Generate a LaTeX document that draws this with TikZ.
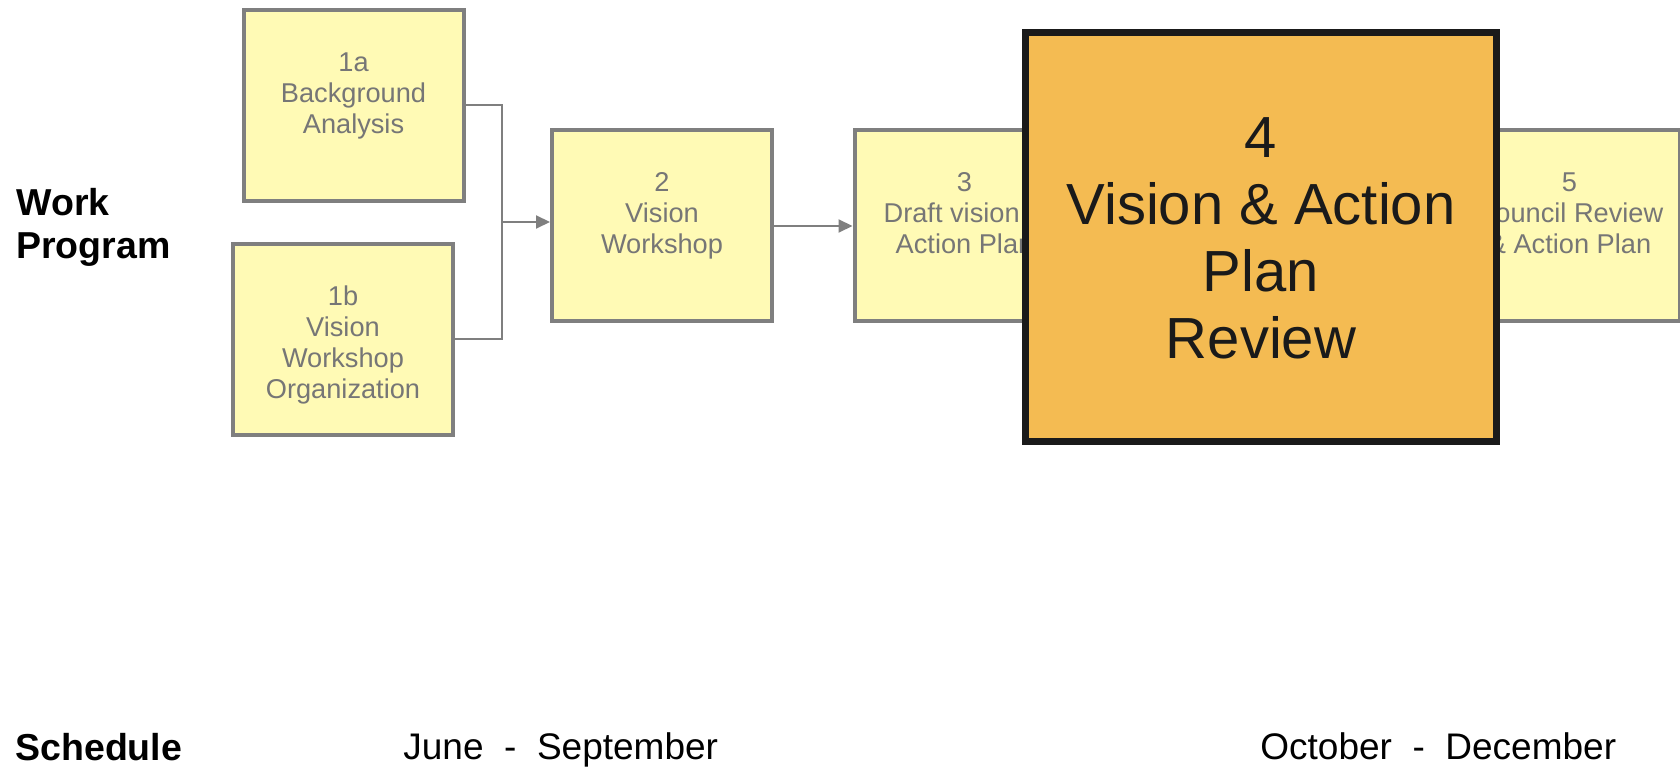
\documentclass[tikz,border=0pt]{standalone}
\usepackage{fontspec}
\setmainfont{Liberation Sans}
\usetikzlibrary{arrows.meta}
\definecolor{boxfill}{HTML}{FFFAB5}
\definecolor{boxline}{HTML}{7F7F7F}
\definecolor{boxtext}{HTML}{767676}
\definecolor{hifill}{HTML}{F4BB52}
\definecolor{ink}{HTML}{1A1A1A}
\newcommand{\fstrut}[1]{\rule{0pt}{#1}}
\begin{document}
\begin{tikzpicture}[x=0.5pt,y=-0.5pt,
  taskbox/.style={draw=boxline, line width=2pt, fill=boxfill, minimum width=110pt, minimum height=95.5pt, inner sep=0pt},
  tasktext/.style={text=boxtext, align=center, inner sep=0pt, anchor=north, font=\fontsize{13.6}{15.5}\selectfont},
  bigbox/.style={draw=ink, line width=3.5pt, fill=hifill, minimum width=235.5pt, minimum height=204.5pt, inner sep=0pt},
  bigtext/.style={text=ink, align=center, inner sep=0pt, anchor=north, font=\fontsize{29}{33.5}\selectfont},
  conn/.style={draw=boxline, line width=1pt},
  arr/.style={conn, -{Triangle[length=7pt,width=6.5pt]}},
  rowlabel/.style={font=\fontsize{18.75}{21.5}\selectfont\bfseries, text=black, inner sep=0pt, align=left},
  datelabel/.style={font=\fontsize{18.5}{22}\selectfont, text=black, inner sep=0pt}]
\useasboundingbox (0,0) rectangle (1680,769);
\fill[white] (0,0) rectangle (1680,769);

% row labels
\node[rowlabel, anchor=north west] (wp) at (16,185) {\fstrut{15pt}Work\\Program};
\node[rowlabel, anchor=base west] (sched) at (15,760) {Schedule};
\node[datelabel, anchor=base west] (d1) at (403,759) {June\ \ -\ \ September};
\node[datelabel, anchor=base west] (d2) at (1260,759) {October\ \ -\ \ December};

% task boxes
\node[taskbox] (b1a) at (353.5,105.5) {};
\node[tasktext] (t1a) at ([yshift=-20pt]b1a.north) {\fstrut{11.5pt}1a\\Background\\Analysis};
\node[taskbox] (b1b) at (343,339.5) {};
\node[tasktext] (t1b) at ([yshift=-20pt]b1b.north) {\fstrut{11.5pt}1b\\Vision\\Workshop\\Organization};
\node[taskbox] (b2) at (662,226) {};
\node[tasktext] (t2) at ([yshift=-20pt]b2.north) {\fstrut{11.5pt}2\\Vision\\Workshop};
\node[taskbox] (b3) at (964.5,226) {};
\node[tasktext] (t3) at ([yshift=-20pt]b3.north) {\fstrut{11.5pt}3\\Draft vision \&\\Action Plan};
\node[taskbox] (b5) at (1569.5,226) {};
\node[tasktext] (t5) at ([yshift=-20pt]b5.north) {\fstrut{11.5pt}5\\Council Review\\\& Action Plan};

% connectors
\coordinate (j) at (502,222);
\draw[conn] (b1a.east) -| (j);
\draw[conn] (b1b.east) -| (j);
\draw[arr] (j) -- (j -| b2.west);
\draw[arr] (b2.east) -- (b3.west);

% highlighted box
\node[bigbox] (b4) at (1261,237) {};
\node[bigtext] (t4) at ([yshift=-39pt]b4.north) {\fstrut{25pt}4\\Vision \& Action\\Plan\\Review};
\end{tikzpicture}
\end{document}
